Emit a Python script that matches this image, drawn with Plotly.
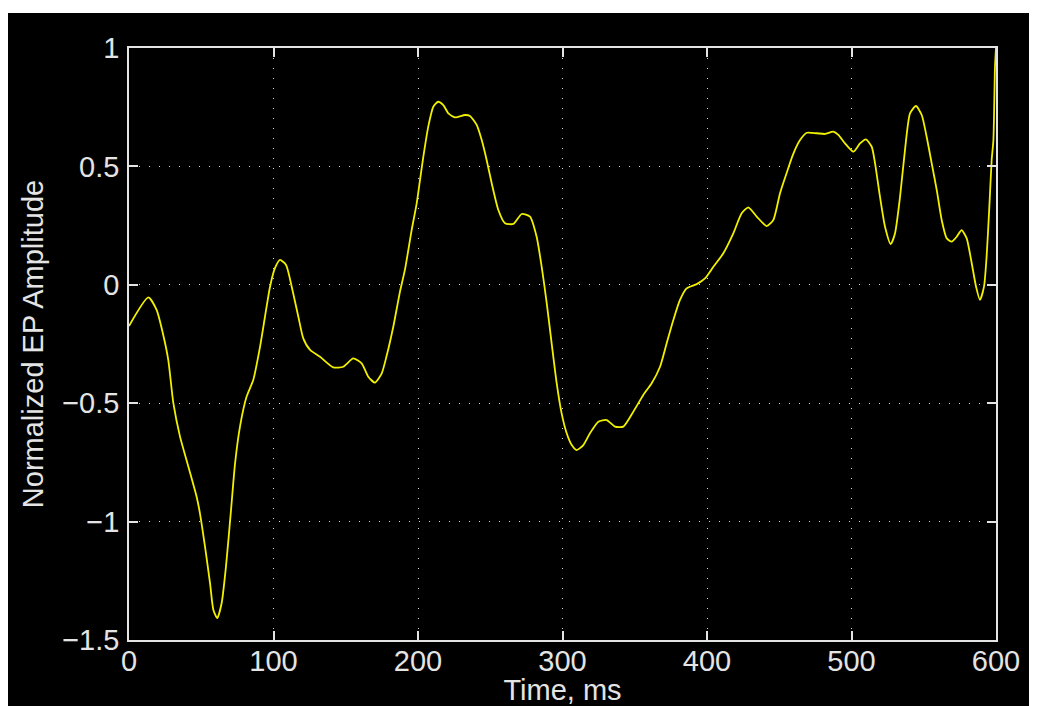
import plotly.graph_objects as go

# EP waveform (time in ms, normalised amplitude)
time_ms = [0, 13.4, 19.1, 23.7, 27.2, 30.7, 35.3, 41.1, 46.8, 49.1, 52.6, 56.1, 58.4, 61.1,
           64.1, 67.1, 70.6, 73.4, 76.8, 81.4, 86.0, 90.7, 94.1, 97.6, 101.0, 104.5, 108.7,
           112.6, 117.2, 120.6, 125.3, 132.2, 141.4, 148.3, 155.2, 161.0, 165.6, 170.2,
           174.9, 178.3, 182.9, 187.5, 191.0, 195.6, 199.1, 201.4, 203.7, 207.1, 210.6,
           214.0, 217.5, 221.0, 225.6, 232.5, 236.0, 240.6, 244.1, 247.5, 251.0, 255.6,
           260.2, 266.0, 271.8, 277.5, 282.1, 285.6, 289.1, 292.5, 296.0, 299.4, 302.9,
           306.4, 309.8, 314.4, 319.0, 324.8, 330.6, 336.3, 342.1, 349.0, 355.9, 361.7,
           367.5, 372.1, 376.7, 381.3, 385.9, 392.9, 398.6, 404.4, 411.3, 418.2, 424.0,
           428.6, 434.4, 441.3, 445.9, 450.5, 455.0, 459.5, 464.4, 469.0, 475.9, 481.7,
           487.4, 490.9, 495.5, 501.3, 505.9, 510.0, 514.0, 516.3, 519.7, 523.2, 527.1,
           530.1, 533.6, 537.0, 540.5, 544.6, 548.6, 552.0, 555.5, 559.0, 562.4, 565.9,
           569.3, 572.8, 576.2, 579.7, 583.2, 586.2, 588.9, 591.7, 593.5, 595.4, 597.0,
           598.2, 599.3, 600]
amplitude = [-0.174, -0.053, -0.106, -0.212, -0.318, -0.500, -0.641, -0.768, -0.895, -0.965,
             -1.106, -1.261, -1.373, -1.408, -1.345, -1.190, -0.951, -0.754, -0.599, -0.472,
             -0.402, -0.261, -0.135, -0.008, 0.070, 0.105, 0.084, -0.008, -0.135, -0.226,
             -0.275, -0.304, -0.349, -0.346, -0.311, -0.332, -0.388, -0.413, -0.374, -0.300,
             -0.177, -0.030, 0.065, 0.231, 0.344, 0.443, 0.541, 0.668, 0.752, 0.773, 0.759,
             0.724, 0.707, 0.717, 0.713, 0.675, 0.611, 0.527, 0.429, 0.316, 0.260, 0.257,
             0.299, 0.288, 0.203, 0.076, -0.078, -0.247, -0.416, -0.543, -0.627, -0.677,
             -0.698, -0.677, -0.627, -0.578, -0.571, -0.599, -0.599, -0.536, -0.465, -0.416,
             -0.346, -0.247, -0.149, -0.064, -0.015, 0.003, 0.027, 0.076, 0.133, 0.217,
             0.302, 0.327, 0.288, 0.248, 0.274, 0.386, 0.470, 0.550, 0.611, 0.642, 0.640,
             0.637, 0.647, 0.633, 0.597, 0.562, 0.597, 0.614, 0.583, 0.513, 0.372, 0.245,
             0.172, 0.217, 0.372, 0.569, 0.724, 0.755, 0.717, 0.625, 0.513, 0.400, 0.274,
             0.196, 0.182, 0.203, 0.231, 0.196, 0.091, -0.008, -0.064, -0.008, 0.119, 0.330,
             0.527, 0.611, 0.921, 1.0]

x_ticks = [0, 100, 200, 300, 400, 500, 600]
y_ticks = [-1.5, -1, -0.5, 0, 0.5, 1]

fg = "#e4e4e4"
font = dict(family="Liberation Sans, Arial, sans-serif", size=29, color=fg)

fig = go.Figure()
fig.add_trace(go.Scatter(x=time_ms, y=amplitude, mode="lines",
                         line=dict(color="#f0f000", width=1.8, shape="spline", smoothing=0.6),
                         hoverinfo="skip"))

axis_style = dict(
    showline=True, linecolor=fg, linewidth=1.5, mirror="allticks",
    ticks="inside", ticklen=9, tickcolor=fg, tickwidth=1.5,
    showgrid=True, gridcolor="#dcdcdc", gridwidth=1.3, griddash="1.3px,8.7px",
    zeroline=False, tickfont=font, automargin=False,
)

fig.update_xaxes(range=[0, 600], tickvals=x_ticks, ticktext=[str(v) for v in x_ticks],
                 ticklabelstandoff=-6,
                 title=dict(text="Time, ms", font=font, standoff=0), **axis_style)
fig.update_yaxes(range=[-1.5, 1], tickvals=y_ticks,
                 ticktext=["\u22121.5", "\u22121", "\u22120.5", "0", "0.5", "1"],
                 ticklabelstandoff=2,
                 title=dict(text="Normalized EP Amplitude", font=font, standoff=10), **axis_style)

# thin white strip along the top edge, as in the original picture
fig.add_shape(type="rect", xref="paper", yref="paper", x0=-0.2, x1=1.1, y0=1.0591, y1=1.08,
              fillcolor="white", line_width=0, layer="above")

fig.update_layout(
    width=1029, height=698,
    margin=dict(l=121, r=41, t=40, b=66),
    paper_bgcolor="black", plot_bgcolor="black",
    showlegend=False, font=font,
)

fig.write_html("out.html")
